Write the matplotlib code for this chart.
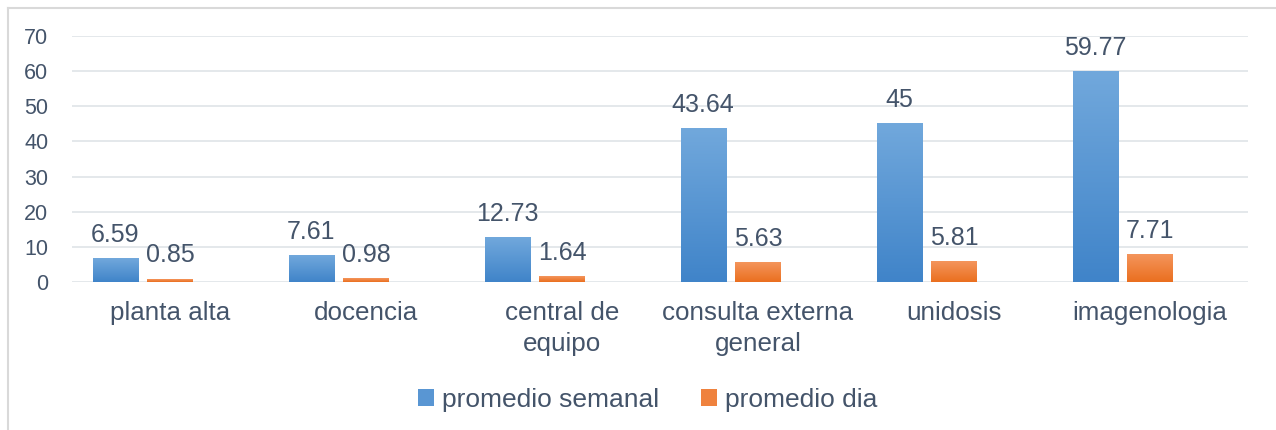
import numpy as np
import matplotlib
matplotlib.use('Agg')
import matplotlib.pyplot as plt
from matplotlib.patches import Patch
from matplotlib.lines import Line2D
from matplotlib.colors import LinearSegmentedColormap

# data
categories = ['planta alta', 'docencia', 'central de\nequipo',
              'consulta externa\ngeneral', 'unidosis', 'imagenologia']
semanal = [6.59, 7.61, 12.73, 43.64, 45, 59.77]
dia = [0.85, 0.98, 1.64, 5.63, 5.81, 7.71]
series_names = ['promedio semanal', 'promedio dia']

txt = '#44546A'
grid_c = '#DDE1E6'
plt.rcParams['font.family'] = ['Liberation Sans', 'DejaVu Sans']

fig = plt.figure(figsize=(12.76, 4.30), dpi=100)
ax = fig.add_axes([72/1276, 148/430, 1176/1276, 246/430])

# chart frame (Excel-style border, left and top visible)
fig.add_artist(Line2D([7.5/1276, 7.5/1276], [0, 1 - 7.5/430], transform=fig.transFigure,
                      color='#D9D9D9', lw=1.5))
fig.add_artist(Line2D([7.5/1276, 1], [1 - 7.5/430, 1 - 7.5/430], transform=fig.transFigure,
                      color='#D9D9D9', lw=1.5))

x = np.arange(len(categories))
w = 0.23
blue_cmap = LinearSegmentedColormap.from_list('b', ['#4084C9', '#71A8DC'])
orange_cmap = LinearSegmentedColormap.from_list('o', ['#EA6F1F', '#F4955C'])

grad = np.linspace(0, 1, 100).reshape(-1, 1)

def gradient_bars(xs, vals, cmap):
    bars = ax.bar(xs, vals, w, color=cmap(0.5), zorder=2)
    for b in bars:
        x0, y0 = b.get_x(), b.get_y()
        ax.imshow(grad, extent=[x0, x0 + b.get_width(), y0, y0 + b.get_height()],
                  origin='lower', cmap=cmap, aspect='auto', zorder=3)
    return bars

gradient_bars(x - 0.28, semanal, blue_cmap)
gradient_bars(x, dia, orange_cmap)

for xs, vals in ((x - 0.28, semanal), (x, dia)):
    for xi, v in zip(xs, vals):
        ax.annotate('%g' % v, (xi, v), xytext=(0, 12), textcoords='offset points',
                    ha='center', va='baseline', fontsize=18, color=txt, zorder=4)

ax.set_xlim(-0.5, len(categories) - 0.5)
ax.set_ylim(0, 70)
ax.set_yticks(range(0, 71, 10))
ax.set_xticks(x)
ax.set_xticklabels(categories, fontsize=18.7, color=txt, linespacing=1.32)
ax.tick_params(axis='x', length=0, pad=14)
ax.tick_params(axis='y', length=0, pad=17, labelsize=15.5, labelcolor=txt)
ax.grid(axis='y', color=grid_c, lw=1.1, zorder=0)
ax.set_axisbelow(True)
for s in ax.spines.values():
    s.set_visible(False)

handles = [Patch(facecolor=blue_cmap(0.5)), Patch(facecolor=orange_cmap(0.5))]
fig.legend(handles, series_names, loc='center', bbox_to_anchor=(648/1276, 30/430),
           ncol=2, frameon=False, fontsize=19, labelcolor=txt,
           handlelength=0.6, handleheight=0.6, handletextpad=0.3, columnspacing=1.6)

fig.savefig('out.png', dpi=100)
